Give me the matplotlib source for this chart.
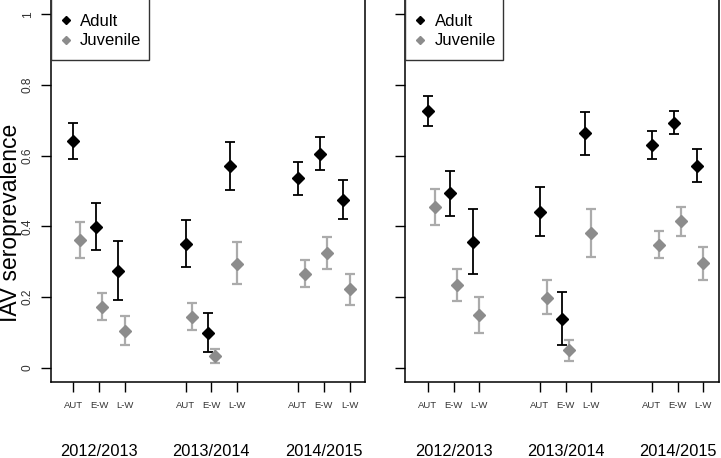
import numpy as np
import matplotlib
matplotlib.use("Agg")
import matplotlib.pyplot as plt
import matplotlib.transforms as mtransforms
from matplotlib.patches import Rectangle

plt.rcParams['font.family'] = ['Liberation Sans', 'DejaVu Sans']

# seasons and sampling periods
seasons = ["2012/2013", "2013/2014", "2014/2015"]
periods = ["AUT", "E-W", "L-W"]

# panel 1 (left): estimate, lower, upper per season x period
adult1 = [0.642, 0.399, 0.274, 0.349, 0.099, 0.571, 0.536, 0.605, 0.476]
adult1_lo = [0.592, 0.334, 0.191, 0.284, 0.044, 0.502, 0.489, 0.561, 0.420]
adult1_hi = [0.694, 0.466, 0.358, 0.417, 0.154, 0.640, 0.583, 0.653, 0.532]
juv1 = [0.361, 0.172, 0.105, 0.144, 0.032, 0.294, 0.266, 0.325, 0.222]
juv1_lo = [0.311, 0.134, 0.065, 0.107, 0.012, 0.236, 0.229, 0.280, 0.178]
juv1_hi = [0.412, 0.211, 0.146, 0.182, 0.054, 0.355, 0.304, 0.370, 0.265]

# panel 2 (right)
adult2 = [0.726, 0.494, 0.357, 0.441, 0.138, 0.663, 0.630, 0.693, 0.572]
adult2_lo = [0.685, 0.430, 0.266, 0.372, 0.064, 0.601, 0.591, 0.661, 0.527]
adult2_hi = [0.768, 0.558, 0.449, 0.511, 0.214, 0.724, 0.670, 0.726, 0.618]
juv2 = [0.454, 0.234, 0.148, 0.198, 0.049, 0.381, 0.348, 0.415, 0.295]
juv2_lo = [0.403, 0.189, 0.097, 0.152, 0.019, 0.312, 0.310, 0.373, 0.249]
juv2_hi = [0.507, 0.280, 0.200, 0.247, 0.078, 0.449, 0.386, 0.456, 0.341]

# x layout: groups 5 units apart, juveniles shifted a bit right
xa = np.array([g * 5 + k for g in range(3) for k in range(3)], dtype=float)
xj = xa + 0.3
xt = np.array([g * 5 + k * 1.15 for g in range(3) for k in range(3)])

ADULT = "black"
JUV_PT = "#8c8c8c"
JUV_BAR = "#ababab"

fig = plt.figure(figsize=(7.21, 4.58), dpi=100)
ax1 = fig.add_axes([0.0703, 0.1653, 0.4363, 0.8375])
ax2 = fig.add_axes([0.5624, 0.1653, 0.4348, 0.8375])


def panel(ax, a, alo, ahi, j, jlo, jhi, first):
    a = np.array(a); j = np.array(j)
    ea = [a - np.array(alo), np.array(ahi) - a]
    ej = [j - np.array(jlo), np.array(jhi) - j]
    ax.errorbar(xa, a, yerr=ea, fmt='none', ecolor=ADULT, elinewidth=1.3,
                capsize=3.6, capthick=1.3, zorder=2)
    ax.errorbar(xj, j, yerr=ej, fmt='none', ecolor=JUV_BAR, elinewidth=1.6,
                capsize=3.6, capthick=1.6, zorder=2)
    ax.plot(xa, a, 'D', color=ADULT, markersize=6, zorder=3, label="Adult")
    ax.plot(xj, j, 'D', color=JUV_PT, markersize=6, zorder=3, label="Juvenile")

    ax.set_xlim(-1, 13)
    ax.set_ylim(-0.0415, 1.0446)
    ax.set_yticks([0, 0.2, 0.4, 0.6, 0.8, 1])
    if first:
        ax.set_yticklabels(["0", "0.2", "0.4", "0.6", "0.8", "1"],
                           rotation=90, va='center', fontsize=8.6, color='#333333')
        ax.set_ylabel("IAV seroprevalence", fontsize=16.5)
        ax.yaxis.set_label_coords(-0.092, 0.415)
    else:
        ax.set_yticklabels([])
    ax.set_xticks(xt)
    ax.set_xticklabels(periods * 3, fontsize=6.8, color='#333333')
    ax.tick_params(axis='both', length=7.2, width=1.0, direction='out')
    ax.tick_params(axis='x', pad=6)
    ax.tick_params(axis='y', pad=5)
    for s in ax.spines.values():
        s.set_linewidth(1.1)

    trans = mtransforms.blended_transform_factory(ax.transData, ax.transAxes)
    for g, name in enumerate(seasons):
        ax.text(g * 5 + 1.15, -0.18, name, transform=trans, ha='center',
                va='center', fontsize=11.8)

    # legend entries without frame, box drawn separately (R-style padding)
    ax.legend(loc='upper left', borderaxespad=0, frameon=False,
              fontsize=12, markerscale=0.7, handletextpad=0.86,
              handlelength=0.0, labelspacing=0.28, borderpad=0.9)
    ax.add_patch(Rectangle((0, 0.840), 0.312, 0.2, transform=ax.transAxes,
                           facecolor='none', edgecolor='#333333', lw=1.0,
                           clip_on=False, zorder=4))


panel(ax1, adult1, adult1_lo, adult1_hi, juv1, juv1_lo, juv1_hi, True)
panel(ax2, adult2, adult2_lo, adult2_hi, juv2, juv2_lo, juv2_hi, False)

fig.savefig("out.png", dpi=100)
